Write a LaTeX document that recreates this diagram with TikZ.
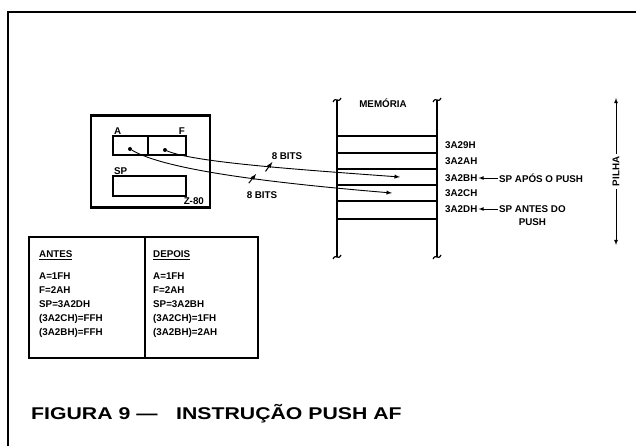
\documentclass[tikz,border=0pt]{standalone}
\usepackage{fontspec}
\setmainfont{Liberation Sans}
\usepackage{graphicx}
\usetikzlibrary{positioning}
\usetikzlibrary{arrows.meta}
\usetikzlibrary{decorations.markings}

\tikzset{
  lbl/.style={font=\fontsize{9.8}{11}\selectfont\bfseries, inner sep=1pt},
  listing/.style={lbl, align=left, font=\fontsize{9.8}{13.8}\selectfont\bfseries},
  titletext/.style={font=\fontsize{17}{20}\selectfont\bfseries, inner sep=0pt},
  heavy/.style={line width=2.2pt},
  reg/.style={draw, line width=1.1pt, minimum height=19pt, inner sep=0pt, outer sep=0pt},
  tablebox/.style={draw, heavy, minimum height=121pt, outer sep=0pt},
  dot/.style={circle, fill, inner sep=0pt, minimum size=4pt},
  bitslash/.style={postaction={decorate, decoration={markings,
      mark=at position #1 with {\draw[line width=1pt] (-3pt,-5pt) -- (3pt,5pt);}}}},
}

\begin{document}
\begin{tikzpicture}[>=latex, x=1pt, y=-1pt]
    \useasboundingbox (0,0) rectangle (636,446);

    % frame
    \draw[line width=2pt] (636,12) -- (8,12) -- (8,446);

    % Z-80 with registers
    \node[draw, heavy, minimum width=119pt, minimum height=92pt] (cpu) at (150.5,161.5) {};
    \node[reg, minimum width=35pt] (regA) at (130.5,145.5) {};
    \node[reg, minimum width=38pt, right=0pt of regA] (regF) {};
    \node[reg, minimum width=73pt, minimum height=20pt] (regSP) at (149.5,186) {};
    \node[lbl, anchor=south west] (labA) at (regA.north west) {A};
    \node[lbl, anchor=south east] (labF) at (regF.north east) {F};
    \node[lbl, anchor=south west] (labSP) at (regSP.north west) {SP};
    \node[lbl, anchor=south east] (labCpu) at ([xshift=-6pt,yshift=2.5pt]cpu.south east) {Z-80};
    \node[dot] (dotA) at (130,149) {};
    \node[dot] (dotF) at (165,150) {};

    % memory
    \draw[heavy] (337,100) -- (337,257);
    \draw[heavy] (437,100) -- (437,257);
    \foreach \x/\y in {337/100, 437/100, 337/257, 437/257}
        \draw[line width=1.2pt] (\x-4,\y+2) .. controls (\x-1,\y-4) and (\x+1,\y+4) .. (\x+4,\y-2);
    \foreach \y in {136,153,169,185,201,219}
        \draw[line width=1.1pt] (337,\y) -- (437,\y);
    \node[lbl] (memLbl) at (383,103) {MEMÓRIA};

    \foreach \y/\txt/\nm in {145/3A29H/m29, 161/3A2AH/m2A, 178/3A2BH/m2B, 193/3A2CH/m2C, 209/3A2DH/m2D}
        \node[lbl, anchor=west] (\nm) at (444,\y) {\txt};

    \coordinate (inB) at (400,177);
    \coordinate (inC) at (392,193);

    % A and F into the stack
    \draw[->, line width=0.9pt, bitslash=0.44] (dotF) .. controls +(28,12) and +(-110,-8) .. (inB);
    \draw[->, line width=0.9pt, bitslash=0.47] (dotA) .. controls +(35,21) and +(-120,-10) .. (inC);
    \node[lbl] (bitsF) at (287,156) {8 BITS};
    \node[lbl] (bitsA) at (262,195) {8 BITS};

    % stack pointer notes
    \node[lbl, anchor=west] (apos) at (498,178) {SP APÓS O PUSH};
    \node[lbl, anchor=west] (antes) at (498,209) {SP ANTES DO};
    \node[lbl, below=4pt of antes] (antes2) {PUSH};
    \draw[->, line width=0.8pt] (apos.west) -- (m2B.east);
    \draw[->, line width=0.8pt] (antes.west) -- (m2D.east);

    \coordinate (pilhaTop) at (616,98);
    \coordinate (pilhaBot) at (616,245);
    \draw[<->, line width=0.8pt] (pilhaTop) -- node[lbl, rotate=90, fill=white, inner sep=3pt] (pilha) {PILHA} (pilhaBot);

    % before / after
    \node[tablebox, minimum width=116pt] (antesBox) at (87,297.5) {};
    \node[tablebox, minimum width=113pt, right=0pt of antesBox] (depoisBox) {};
    \node[lbl, anchor=west] (antesHd) at (38,255) {\underline{ANTES}};
    \node[lbl, anchor=west] (depoisHd) at (152,255) {\underline{DEPOIS}};
    \node[listing, anchor=north west] (antesList) at (38,272) {A=1FH\\F=2AH\\SP=3A2DH\\(3A2CH)=FFH\\(3A2BH)=FFH};
    \node[listing, anchor=north west] (depoisList) at (152,272) {A=1FH\\F=2AH\\SP=3A2BH\\(3A2CH)=1FH\\(3A2BH)=2AH};

    % caption
    \node[titletext, anchor=base west] (figNum) at (31,419) {\scalebox{1.25}[1]{FIGURA 9 —}};
    \node[titletext, anchor=base west] (figTxt) at (176,419) {\scalebox{1.25}[1]{INSTRUÇÃO PUSH AF}};
\end{tikzpicture}
\end{document}
